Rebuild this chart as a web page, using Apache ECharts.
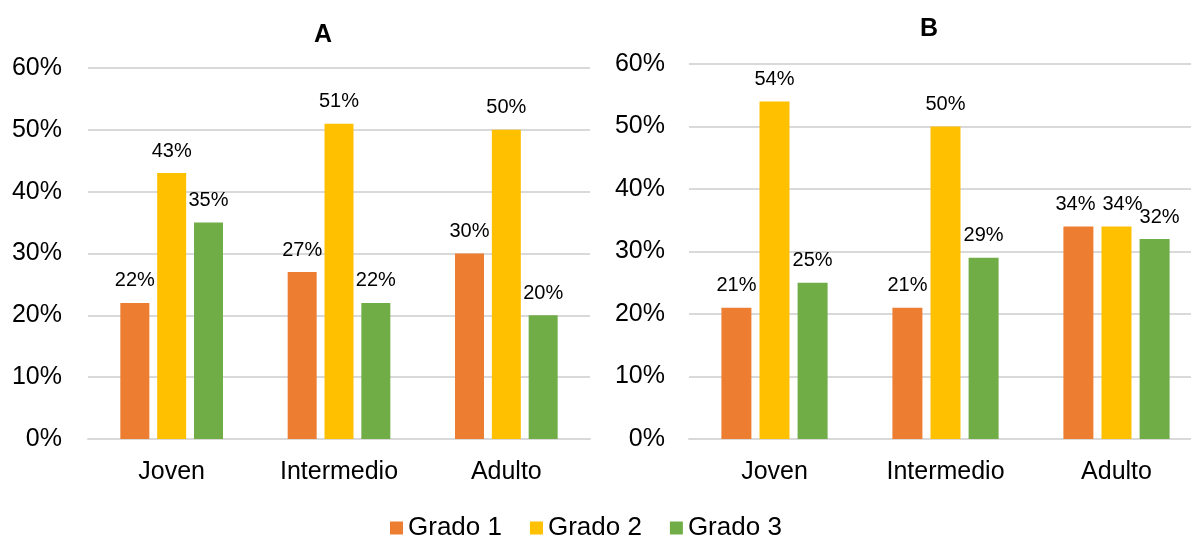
<!DOCTYPE html>
<html>
<head>
<meta charset="utf-8">
<script src="https://cdn.jsdelivr.net/npm/echarts@6/dist/echarts.min.js"></script>
<style>
  html, body { margin: 0; padding: 0; background: #fff; overflow: hidden; }
  /* canvas is a little wider than the window so panel B's plot runs past the right edge */
  #chart { width: 1204px; height: 536px; }
</style>
</head>
<body>
<div id="chart"></div>
<script>
// Age groups on the category axis
const categories = ['Joven', 'Intermedio', 'Adulto'];
const seriesNames = ['Grado 1', 'Grado 2', 'Grado 3'];
const yTicks = [0, 10, 20, 30, 40, 50, 60];

// Panel A percentages
const aGrado1 = [22, 27, 30];
const aGrado2 = [43, 51, 50];
const aGrado3 = [35, 22, 20];

// Panel B percentages
const bGrado1 = [21, 21, 34];
const bGrado2 = [54, 50, 34];
const bGrado3 = [25, 29, 32];

const colors = ['#ED7D31', '#FFC000', '#70AD47'];
const FONT = '"Liberation Sans", Arial, sans-serif';

// Horizontal nudges (px) that keep the crowded "Adulto" labels of panel B apart
const adultoLabelNudge = [-3, 6, 5];

function xAxis(gridIndex) {
  return {
    type: 'category', gridIndex, data: categories,
    axisLine: { show: true, lineStyle: { color: '#D9D9D9', width: 2 } },
    axisTick: { show: false },
    axisLabel: { color: '#000', fontFamily: FONT, fontSize: 25, margin: 21 }
  };
}
function yAxis(gridIndex, margin) {
  return {
    type: 'value', gridIndex, min: yTicks[0], max: yTicks[yTicks.length - 1], interval: 10,
    axisLine: { show: false }, axisTick: { show: false },
    splitLine: { lineStyle: { color: '#D9D9D9', width: 2 } },
    axisLabel: { color: '#000', fontFamily: FONT, fontSize: 25, margin, formatter: '{value}%' }
  };
}
function bar(name, values, idx, axisIndex, width, nudge) {
  const data = values.map((v, i) =>
    (nudge && i === values.length - 1) ? { value: v, label: { offset: [nudge, 0] } } : v);
  return {
    name, type: 'bar', data,
    xAxisIndex: axisIndex, yAxisIndex: axisIndex,
    barWidth: width, barGap: '27%',
    itemStyle: { color: colors[idx] },
    label: {
      show: true, position: 'top', distance: 12,
      color: '#000', fontFamily: FONT, fontSize: 20, formatter: '{c}%'
    }
  };
}

const chart = echarts.init(document.getElementById('chart'), null, { renderer: 'canvas' });
chart.setOption({
  animation: false,
  backgroundColor: '#fff',
  title: [
    { text: 'A', left: 318, top: 18, textAlign: 'center',
      textStyle: { fontFamily: FONT, fontSize: 25, fontWeight: 'bold', color: '#000' } },
    { text: 'B', left: 924, top: 12, textAlign: 'center',
      textStyle: { fontFamily: FONT, fontSize: 25, fontWeight: 'bold', color: '#000' } }
  ],
  legend: {
    data: seriesNames, left: 385, top: 510,
    icon: 'rect', itemWidth: 13, itemHeight: 13, itemGap: 28,
    textStyle: { fontFamily: FONT, fontSize: 26, color: '#000' }
  },
  grid: [
    { left: 88, top: 68, width: 502, height: 371 },
    { left: 689, top: 64, width: 513, height: 375 }
  ],
  xAxis: [xAxis(0), xAxis(1)],
  yAxis: [yAxis(0, 26), yAxis(1, 24)],
  series: [
    bar(seriesNames[0], aGrado1, 0, 0, 29),
    bar(seriesNames[1], aGrado2, 1, 0, 29),
    bar(seriesNames[2], aGrado3, 2, 0, 29),
    bar(seriesNames[0], bGrado1, 0, 1, 30, adultoLabelNudge[0]),
    bar(seriesNames[1], bGrado2, 1, 1, 30, adultoLabelNudge[1]),
    bar(seriesNames[2], bGrado3, 2, 1, 30, adultoLabelNudge[2])
  ]
});
</script>
</body>
</html>
